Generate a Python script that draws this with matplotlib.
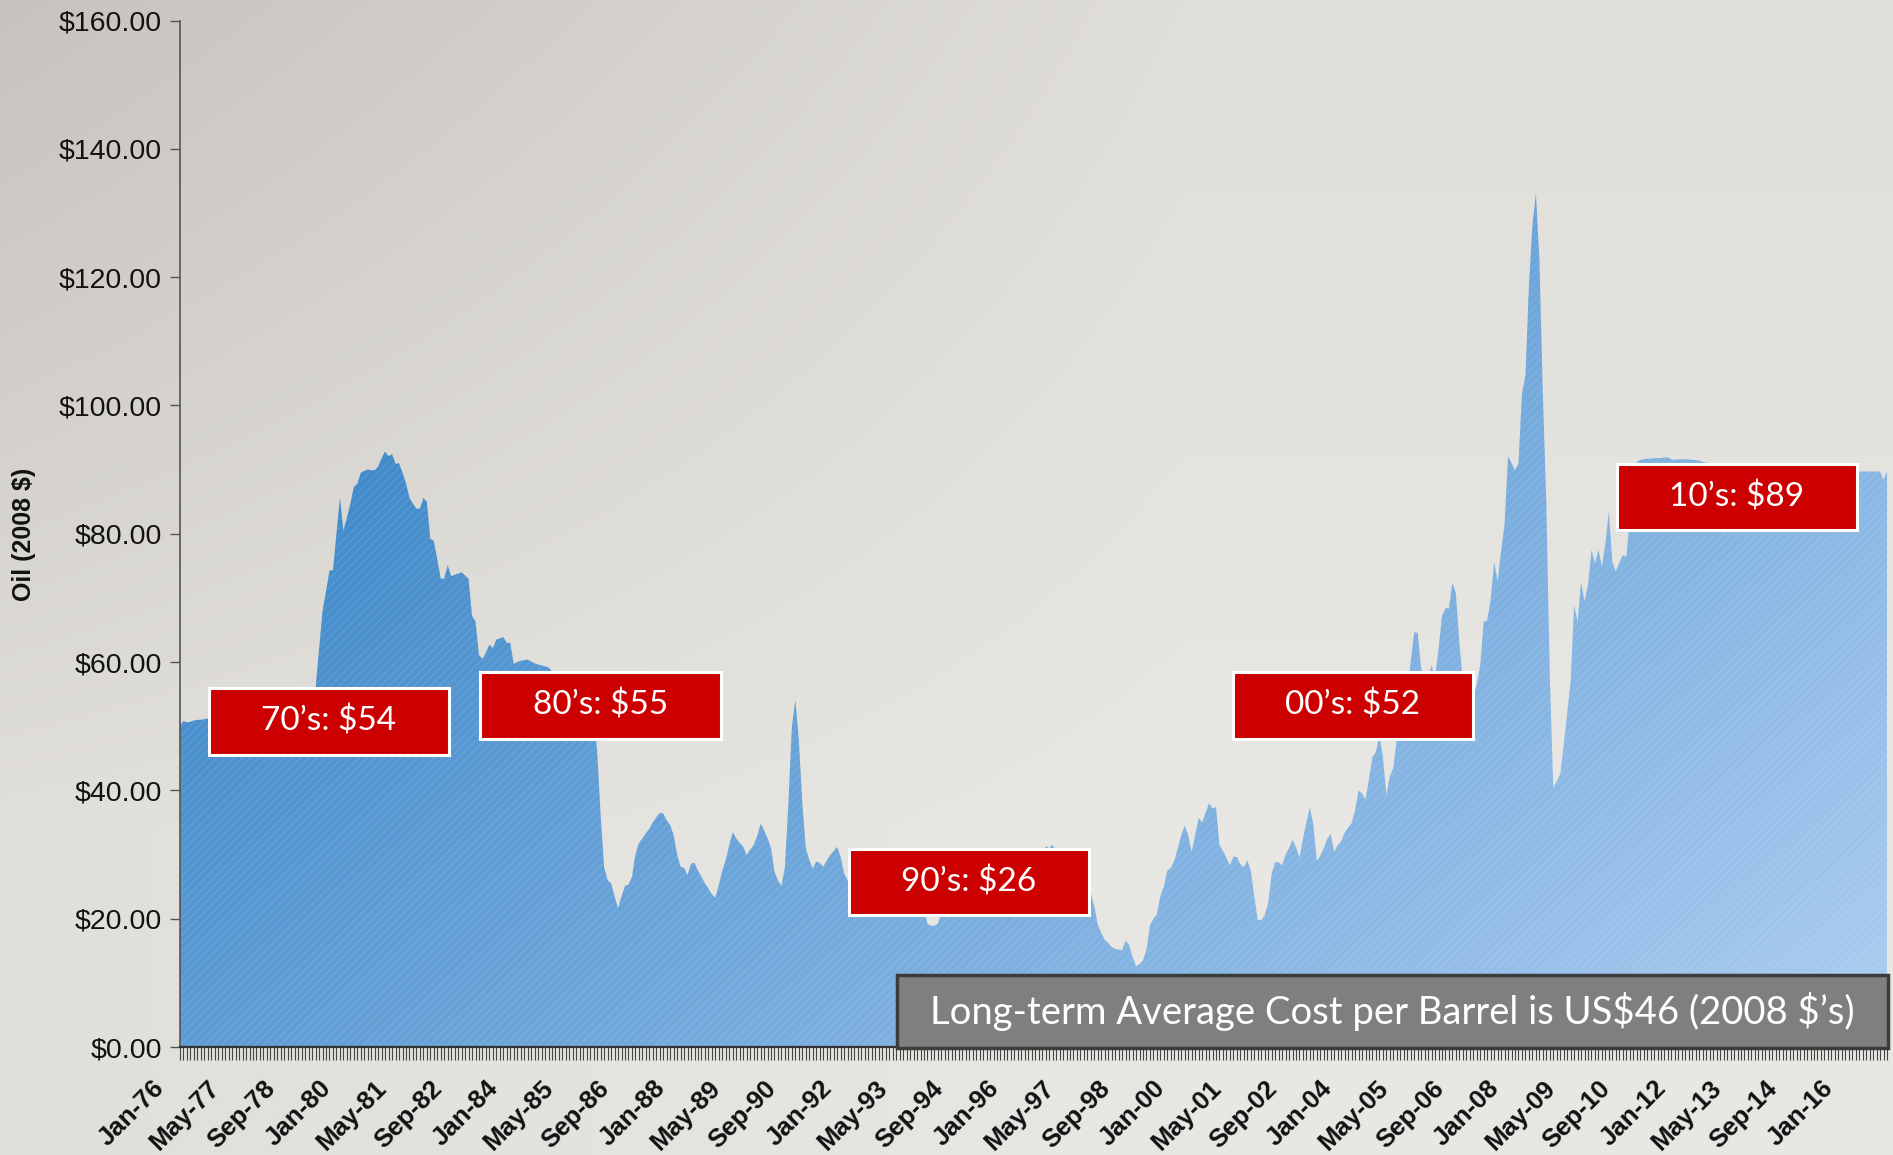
import numpy as np
import matplotlib
matplotlib.use("Agg")
import matplotlib.pyplot as plt
from matplotlib.patches import Rectangle
from matplotlib.ticker import MultipleLocator, FixedLocator
import matplotlib.transforms as mtransforms

# ---------------- data (monthly oil price, 2008 $), Jan-1976 .. Dec-2016 ----------------
prices_1970s = [
    50.1, 50.8, 50.6, 50.7, 50.9, 51.0, 51.0, 51.1, 51.2, 51.4, 51.5, 51.6,   # 1976
    51.8, 52.0, 52.1, 52.0, 51.9, 51.8, 51.6, 51.5, 51.4, 51.3, 51.2, 51.0,   # 1977
    50.8, 50.6, 50.4, 50.3, 50.2, 50.1, 50.0, 50.0, 50.2, 50.5, 50.8, 51.2,   # 1978
    52.5, 54.0, 55.0, 56.0, 62.0, 68.0, 71.0, 74.3, 74.3, 80.0, 85.6, 80.5,   # 1979
]
prices_1980s = [
    82.5, 84.7, 87.3, 87.8, 89.5, 89.8, 90.0, 89.9, 89.9, 90.5, 91.8, 92.8,   # 1980
    92.1, 92.4, 90.9, 91.0, 89.5, 87.9, 85.6, 84.7, 83.9, 83.9, 85.6, 85.0,   # 1981
    79.2, 78.9, 76.0, 73.0, 73.0, 75.1, 73.4, 73.6, 73.8, 74.0, 73.5, 73.0,   # 1982
    67.2, 66.3, 61.1, 60.5, 61.5, 62.7, 62.2, 63.5, 63.7, 63.9, 63.0, 63.0,   # 1983
    59.7, 60.0, 60.2, 60.3, 60.4, 60.1, 59.8, 59.6, 59.5, 59.3, 59.2, 58.5,   # 1984
    58.0, 57.5, 57.0, 56.8, 56.5, 56.0, 55.8, 56.2, 56.8, 57.0, 56.0, 52.0,   # 1985
    46.0, 36.0, 28.0, 26.0, 25.5, 23.5, 21.6, 23.5, 25.1, 25.3, 26.5, 30.0,   # 1986
    31.8, 32.5, 33.3, 34.0, 35.0, 35.8, 36.5, 36.4, 35.3, 34.6, 33.0, 30.0,   # 1987
    28.1, 27.9, 26.8, 28.6, 28.7, 27.5, 26.5, 25.5, 24.7, 23.8, 23.3, 25.3,   # 1988
    27.5, 29.2, 31.5, 33.5, 32.5, 31.8, 31.2, 29.9, 30.8, 31.5, 32.8, 34.8,   # 1989
]
prices_1990s = [
    33.8, 32.5, 31.0, 27.3, 26.0, 25.1, 28.1, 38.0, 50.0, 54.1, 47.9, 38.0,   # 1990
    31.0, 29.2, 27.8, 28.9, 28.7, 28.1, 29.0, 29.9, 30.5, 31.2, 29.7, 27.1,   # 1991
    26.0, 25.5, 25.5, 26.5, 27.5, 28.5, 28.0, 27.5, 27.5, 27.5, 26.5, 25.5,   # 1992
    25.5, 25.5, 25.8, 26.0, 25.8, 24.8, 23.8, 23.5, 23.0, 22.5, 21.5, 19.2,   # 1993
    18.9, 18.9, 19.2, 21.0, 23.0, 24.5, 25.5, 24.5, 23.5, 23.5, 24.0, 23.0,   # 1994
    23.5, 24.0, 24.0, 25.0, 25.0, 24.0, 23.0, 23.0, 23.5, 23.5, 23.5, 25.0,   # 1995
    25.5, 25.8, 27.5, 28.8, 27.5, 26.2, 26.8, 27.5, 29.5, 31.3, 31.0, 31.5,   # 1996
    30.5, 28.5, 27.0, 25.5, 26.0, 24.5, 24.5, 25.0, 25.5, 25.3, 24.0, 21.9,   # 1997
    19.0, 17.8, 16.7, 16.2, 15.6, 15.3, 15.2, 15.1, 16.6, 15.9, 14.0, 12.6,   # 1998
    12.9, 13.5, 15.2, 19.0, 20.0, 20.7, 23.5, 25.0, 27.5, 27.9, 29.0, 31.0,   # 1999
]
prices_2000s = [
    33.0, 34.5, 33.0, 30.4, 33.0, 35.7, 35.0, 36.5, 38.0, 37.2, 37.4, 31.5,   # 2000
    30.5, 29.5, 28.3, 29.7, 29.6, 28.5, 28.0, 29.1, 27.5, 23.5, 19.8, 19.8,   # 2001
    20.5, 22.5, 27.0, 28.8, 28.8, 28.3, 30.0, 31.0, 32.3, 31.2, 29.5, 32.5,   # 2002
    35.0, 37.4, 34.6, 29.0, 29.8, 31.0, 32.5, 33.2, 30.4, 31.5, 32.1, 33.4,   # 2003
    34.2, 34.9, 36.9, 40.0, 39.5, 38.6, 41.8, 45.2, 46.0, 48.6, 45.2, 39.3,   # 2004
    42.2, 43.5, 48.1, 50.0, 52.0, 55.0, 60.0, 64.6, 64.6, 59.1, 57.0, 57.5,   # 2005
    59.5, 57.5, 62.0, 67.2, 68.4, 68.4, 72.4, 70.7, 63.0, 57.0, 55.0, 54.0,   # 2006
    54.5, 56.5, 59.5, 66.3, 66.5, 69.7, 75.6, 72.6, 77.3, 81.5, 92.1, 91.0,   # 2007
    89.9, 91.0, 101.8, 104.7, 118.7, 128.0, 133.1, 123.0, 102.0, 85.0, 58.0, 40.5,  # 2008
    41.4, 42.5, 47.0, 52.0, 57.0, 68.9, 66.3, 72.5, 69.4, 72.0, 77.5, 75.4,   # 2009
]
prices_2010s = [
    77.5, 74.9, 78.5, 83.4, 75.6, 74.1, 75.5, 76.7, 76.4, 82.0, 88.0, 91.2,   # 2010
    91.5, 91.6, 91.7, 91.7, 91.8, 91.8, 91.8, 91.9, 91.9, 91.6, 91.5, 91.6,   # 2011
    91.6, 91.6, 91.6, 91.5, 91.5, 91.4, 91.2, 91.1, 91.0, 90.9, 90.8, 90.7,   # 2012
    90.6, 90.5, 90.5, 90.4, 90.4, 90.3, 90.3, 90.2, 90.2, 90.1, 90.1, 90.0,   # 2013
    90.0, 90.0, 89.9, 89.9, 89.9, 89.9, 89.8, 89.8, 89.8, 89.8, 89.8, 89.8,   # 2014
    89.8, 89.8, 89.7, 89.7, 89.7, 89.7, 89.7, 89.7, 89.7, 89.7, 89.7, 89.7,   # 2015
    89.7, 89.7, 89.7, 89.7, 89.7, 89.7, 89.7, 89.7, 89.7, 89.7, 88.4, 89.7,   # 2016
]

tick_labels = ["Jan-76", "May-77", "Sep-78", "Jan-80", "May-81", "Sep-82", "Jan-84",
               "May-85", "Sep-86", "Jan-88", "May-89", "Sep-90", "Jan-92", "May-93",
               "Sep-94", "Jan-96", "May-97", "Sep-98", "Jan-00", "May-01", "Sep-02",
               "Jan-04", "May-05", "Sep-06", "Jan-08", "May-09", "Sep-10", "Jan-12",
               "May-13", "Sep-14", "Jan-16"]
tick_step = 16

decade_labels = ["70\u2019s: $54", "80\u2019s: $55", "90\u2019s: $26", "00\u2019s: $52", "10\u2019s: $89"]
average_note = "Long-term Average Cost per Barrel is US$46 (2008 $\u2019s)"
y_label = "Oil (2008 $)"
y_ticks = [0, 20, 40, 60, 80, 100, 120, 140, 160]

# ---------------- figure ----------------
prices = np.array(prices_1970s + prices_1980s + prices_1990s + prices_2000s + prices_2010s)
months = np.arange(len(prices))

W, H = 1893, 1155
fig = plt.figure(figsize=(W / 100, H / 100), dpi=100)

# background gradient
bg = fig.add_axes([0, 0, 1, 1], zorder=-10)
bg.axis("off")
gy, gx = np.mgrid[0:1:240j, 0:1:380j]
c_tl = np.array([0xc6, 0xc2, 0xbd]) / 255
c_tr = np.array([0xe0, 0xde, 0xd9]) / 255
c_bl = np.array([0xe1, 0xdf, 0xda]) / 255
c_br = np.array([0xe8, 0xe7, 0xe3]) / 255
wx = np.clip(gx * 1.6, 0, 1)[..., None]
wy = np.clip(gy * 1.4, 0, 1)[..., None]
bgimg = ((1 - wx) * (1 - wy) * c_tl + wx * (1 - wy) * c_tr
         + (1 - wx) * wy * c_bl + wx * wy * c_br)
bg.imshow(bgimg, extent=[0, 1, 0, 1], origin="upper", aspect="auto", interpolation="bilinear")
bg.set_xlim(0, 1)
bg.set_ylim(0, 1)

# main axes
ax = fig.add_axes([180 / W, 1 - 1047 / H, 1707 / W, (1047 - 20.5) / H])
ax.set_facecolor("none")

n = len(prices)
poly = ax.fill_between(months, 0, prices, facecolor="none", edgecolor="none")

# gradient fill clipped to the area
ny, nx = 400, 800
ry, rx = np.mgrid[0:1:ny * 1j, 0:1:nx * 1j]   # ry: 0 = top (160), 1 = bottom (0)
c_dark = np.array([0x38, 0x85, 0xc7]) / 255
c_light = np.array([0xab, 0xcc, 0xf0]) / 255
t = np.clip(0.70 * rx + 0.55 * (ry - 0.42), 0, 1)[..., None]
grad = (1 - t) * c_dark + t * c_light
im = ax.imshow(grad, extent=[0, n - 1, 0, 160], origin="upper", aspect="auto",
               interpolation="bilinear", zorder=1)
im.set_clip_path(poly.get_paths()[0], transform=ax.transData)

plt.rcParams["hatch.linewidth"] = 0.5
ax.fill_between(months, 0, prices, facecolor="none", edgecolor=(1, 1, 1, 0.18),
                linewidth=0, hatch="////", zorder=2)

ax.set_xlim(0, n - 1)
ax.set_ylim(0, 160)

for s in ["top", "right"]:
    ax.spines[s].set_visible(False)
ax.spines["left"].set_color("#555555")
ax.spines["left"].set_linewidth(1.2)
ax.spines["bottom"].set_color("#333333")
ax.spines["bottom"].set_linewidth(1.6)
ax.spines["bottom"].set_zorder(5)

# y axis
ax.set_yticks(y_ticks)
ax.set_yticklabels([f"${v:.2f}" for v in y_ticks], fontsize=20.5, family="Liberation Sans",
                   color="#111111")
ax.tick_params(axis="y", length=7, width=1.0, color="#555555", pad=6)

# x axis
ax.xaxis.set_major_locator(FixedLocator(np.arange(0, len(tick_labels) * tick_step, tick_step)))
ax.xaxis.set_minor_locator(MultipleLocator(1))
ax.set_xticklabels(tick_labels, rotation=45, ha="right", va="top", rotation_mode="anchor",
                   fontsize=18.5, fontweight="bold", family="Liberation Sans", color="#111111")
ax.tick_params(axis="x", which="both", length=9, width=0.8, color="#444444", direction="out")
ax.tick_params(axis="x", which="major", pad=12)
offset = mtransforms.ScaledTranslation(-28 / 100, 0, fig.dpi_scale_trans)
for lbl in ax.get_xticklabels():
    lbl.set_transform(lbl.get_transform() + offset)

fig.text(24 / W, 1 - 534 / H, y_label, rotation=90, ha="center", va="center",
         fontsize=18, fontweight="bold", family="Liberation Sans", color="#111111",
         parse_math=False)

# ---------------- annotation boxes ----------------
def px_box(x0, y0, x1, y1, face, edge, lw, text, size):
    r = Rectangle((x0 / W, 1 - y1 / H), (x1 - x0) / W, (y1 - y0) / H,
                  transform=fig.transFigure, facecolor=face, edgecolor=edge,
                  linewidth=lw, zorder=10)
    fig.add_artist(r)
    fig.text((x0 + x1) / 2 / W, 1 - (y0 + y1) / 2 / H, text, ha="center", va="center",
             fontsize=size, color="white", family="Lato", zorder=11, parse_math=False)

red_boxes = [(209, 688, 449, 755), (480, 672, 721, 739), (849, 849, 1089, 915),
             (1233, 672, 1473, 739), (1617, 464, 1857, 530)]
for (x0, y0, x1, y1), lab in zip(red_boxes, decade_labels):
    px_box(x0, y0, x1, y1, "#cc0000", "white", 2.2, lab, 24)

px_box(897, 975, 1888, 1048, "#7f7f7f", "#3c3c3c", 2.5, average_note, 27.5)

fig.savefig("out.png", dpi=100)
